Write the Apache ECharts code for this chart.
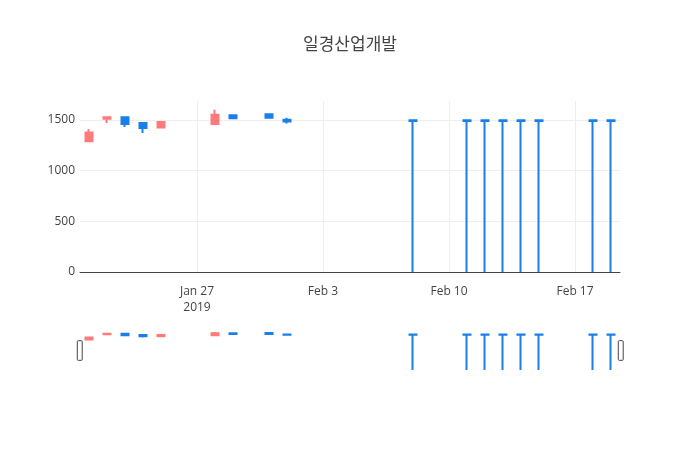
<!DOCTYPE html>
<html>
<head>
<meta charset="utf-8">
<script src="https://cdn.jsdelivr.net/npm/echarts@6/dist/echarts.min.js"></script>
<style>
html,body{margin:0;padding:0;background:#fff;}
#chart{width:700px;height:450px;}
</style>
</head>
<body>
<div id="chart"></div>
<script>
// ---- data ----
const titleText = '일경산업개발';
const dates  = ['2019-01-21','2019-01-22','2019-01-23','2019-01-24','2019-01-25','2019-01-28','2019-01-29','2019-01-31','2019-02-01','2019-02-08','2019-02-11','2019-02-12','2019-02-13','2019-02-14','2019-02-15','2019-02-18','2019-02-19'];
const opens  = [1290, 1510, 1525, 1470, 1425, 1460, 1545, 1555, 1500, 1495, 1495, 1495, 1495, 1495, 1495, 1495, 1495];
const closes = [1375, 1525, 1460, 1420, 1480, 1550, 1515, 1520, 1485, 1490, 1490, 1490, 1490, 1490, 1490, 1490, 1490];
const lows   = [1290, 1470, 1430, 1370, 1425, 1460, 1505, 1510, 1465,    0,    0,    0,    0,    0,    0,    0,    0];
const highs  = [1410, 1535, 1525, 1480, 1480, 1600, 1555, 1560, 1520, 1495, 1495, 1495, 1495, 1495, 1495, 1495, 1495];
const axisStart = '2019-01-21';
const axisEnd   = '2019-02-19';
const tickDates  = ['2019-01-27','2019-02-03','2019-02-10','2019-02-17'];
const tickLabels = ['Jan 27\n2019','Feb 3','Feb 10','Feb 17'];
const yTicks = [0, 500, 1000, 1500];
const yMax = 1686;

// ---- build axis categories (every calendar day) ----
const categories = [];
{
  let d = new Date(axisStart + 'T00:00:00Z');
  const end = new Date(axisEnd + 'T00:00:00Z');
  while (d <= end) {
    categories.push(d.toISOString().slice(0, 10));
    d = new Date(d.getTime() + 86400000);
  }
}
const ohlc = categories.map(c => {
  const i = dates.indexOf(c);
  return i < 0 ? '-' : [opens[i], closes[i], lows[i], highs[i]];
});
const tickIdx = tickDates.map(t => categories.indexOf(t));
const isTick = (idx) => tickIdx.indexOf(idx) >= 0;

const UP = '#ff7b7b', DOWN = '#1a7fea';
const FONT = '"Open Sans", "Noto Sans CJK KR", sans-serif';

const candleStyle = {
  color: UP, color0: DOWN, borderColor: UP, borderColor0: DOWN, borderWidth: 2
};

const chart = echarts.init(document.getElementById('chart'), null, {renderer: 'canvas'});
chart.setOption({
  backgroundColor: '#fff',
  animation: false,
  textStyle: {fontFamily: FONT},
  title: {
    text: titleText, left: 'center', top: 37, padding: 0,
    textStyle: {fontFamily: FONT, fontSize: 17, fontWeight: 'normal', color: '#444'}
  },
  grid: [
    {left: 80, right: 80, top: 101, bottom: 178},
    {left: 80, right: 80, top: 330, height: 40}
  ],
  xAxis: [
    {
      type: 'category', gridIndex: 0, data: categories, boundaryGap: true,
      axisLine: {show: true, onZero: true, lineStyle: {color: '#444', width: 1}},
      axisTick: {show: false, alignWithLabel: true, interval: (i) => isTick(i)},
      axisLabel: {
        interval: (i) => isTick(i), color: '#444', fontSize: 12, margin: 12, lineHeight: 16,
        formatter: (v) => { const k = tickDates.indexOf(v); return k >= 0 ? tickLabels[k] : ''; }
      },
      splitLine: {show: true, alignWithLabel: true, interval: (i) => isTick(i), lineStyle: {color: '#eee', width: 1}}
    },
    {
      type: 'category', gridIndex: 1, data: categories, boundaryGap: true,
      axisLine: {show: false}, axisTick: {show: false}, axisLabel: {show: false}, splitLine: {show: false}
    }
  ],
  yAxis: [
    {
      type: 'value', gridIndex: 0, min: 0, max: yMax, interval: 500,
      axisLine: {show: false}, axisTick: {show: false},
      axisLabel: {color: '#444', fontSize: 12, margin: 5, showMaxLabel: false,
        formatter: (v) => yTicks.indexOf(v) >= 0 ? String(v) : ''},
      splitLine: {show: true, showMaxLine: false, lineStyle: {color: '#eee', width: 1}}
    },
    {
      type: 'value', gridIndex: 1, min: 0, max: yMax,
      axisLine: {show: false}, axisTick: {show: false}, axisLabel: {show: false}, splitLine: {show: false}
    }
  ],
  dataZoom: [{
    type: 'slider', xAxisIndex: [0], filterMode: 'none',
    left: 78, right: 79, top: 330, height: 41,
    start: 0, end: 100,
    backgroundColor: 'transparent', borderColor: 'transparent', fillerColor: 'transparent',
    showDataShadow: false, showDetail: false, moveHandleSize: 0, brushSelect: false,
    handleIcon: 'path://M2,0 L8,0 Q10,0 10,2 L10,38 Q10,40 8,40 L2,40 Q0,40 0,38 L0,2 Q0,0 2,0 Z',
    handleSize: '48%',
    handleStyle: {color: '#fff', borderColor: '#444', borderWidth: 1},
    emphasis: {handleStyle: {color: '#fff', borderColor: '#444', borderWidth: 1}}
  }],
  series: [
    {
      type: 'candlestick', xAxisIndex: 0, yAxisIndex: 0, data: ohlc,
      barWidth: 8, itemStyle: candleStyle
    },
    {
      type: 'candlestick', xAxisIndex: 1, yAxisIndex: 1, data: ohlc,
      barWidth: 8, itemStyle: candleStyle, silent: true
    }
  ]
});
</script>
</body>
</html>
